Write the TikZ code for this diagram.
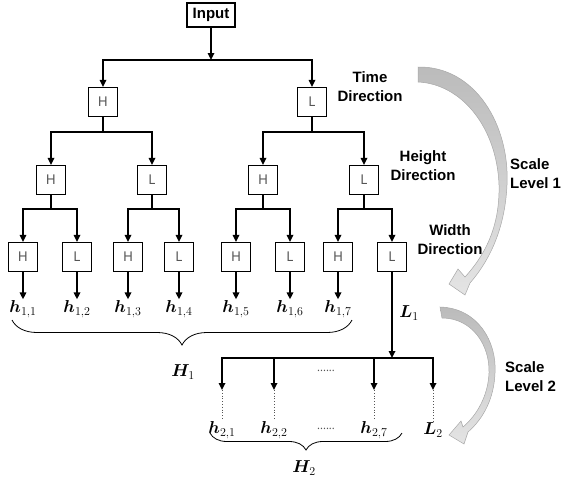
\documentclass[tikz,border=0pt]{standalone}
\usepackage{amsmath}
\usepackage{bm}
\usepackage[no-math]{fontspec}
\usepackage{tikz}
\usetikzlibrary{arrows.meta,decorations.pathreplacing}
\newfontfamily\labelfont{Noto Sans}
\newfontfamily\notefont{Liberation Sans}
\definecolor{boxtext}{HTML}{555555}
\definecolor{arcdark}{HTML}{BBBBBB}
\definecolor{arclight}{HTML}{E4E4E4}
\definecolor{arcline}{HTML}{A8A8A8}

\begin{document}
\begin{tikzpicture}[x=1pt, y=-1pt,
  filt/.style = {draw, line width=1.2pt, minimum width=29pt, minimum height=29pt, inner sep=0pt, text=boxtext, font=\labelfont\fontsize{13.5}{14}\selectfont},
  arr/.style = {line width=1.6pt, -{Triangle[width=6.5pt,length=7pt]}},
  bar/.style = {line width=1.6pt},
  coef/.style = {inner sep=1pt, font=\fontsize{18}{20}\selectfont},
  note/.style = {align=center, font=\notefont\bfseries\fontsize{15}{19}\selectfont},
  brc/.style = {decorate, decoration={brace, mirror, amplitude=#1}, line width=0.8pt},
  gap/.style = {inner sep=0pt, text=boxtext, font=\labelfont\fontsize{11}{11}\selectfont}]
\useasboundingbox (0,0) rectangle (561,482);

% filter tree
\node[draw, line width=1.2pt, minimum width=48pt, minimum height=24pt, inner sep=0pt, font=\notefont\bfseries\fontsize{15}{16}\selectfont] (in) at (211,15) {Input};
\node[filt] (t1) at (103,102) {H};
\node[filt] (t2) at (312,102) {L};
\node[filt] (s1) at (51,180) {H};
\node[filt] (s2) at (152,180) {L};
\node[filt] (s3) at (263,180) {H};
\node[filt] (s4) at (364,180) {L};
\node[filt] (w1) at (23,257) {H};
\node[filt] (w2) at (77,257) {L};
\node[filt] (w3) at (128,257) {H};
\node[filt] (w4) at (179,257) {L};
\node[filt] (w5) at (236,257) {H};
\node[filt] (w6) at (290,257) {L};
\node[filt] (w7) at (338,257) {H};
\node[filt] (w8) at (392,257) {L};

\coordinate (j0) at (211,60);
\draw[arr] (in) -- (j0);
\draw[arr] (j0) -| (t1);
\draw[arr] (j0) -| (t2);
\draw[bar] (t1) -- (t1 |- 0,132) coordinate (j1);
\draw[arr] (j1) -| (s1);
\draw[arr] (j1) -| (s2);
\draw[bar] (t2) -- (t2 |- 0,132) coordinate (j2);
\draw[arr] (j2) -| (s3);
\draw[arr] (j2) -| (s4);
\draw[bar] (s1) -- (s1 |- 0,209) coordinate (j3);
\draw[arr] (j3) -| (w1);
\draw[arr] (j3) -| (w2);
\draw[bar] (s2) -- (s2 |- 0,209) coordinate (j4);
\draw[arr] (j4) -| (w3);
\draw[arr] (j4) -| (w4);
\draw[bar] (s3) -- (s3 |- 0,209) coordinate (j5);
\draw[arr] (j5) -| (w5);
\draw[arr] (j5) -| (w6);
\draw[bar] (s4) -- (s4 |- 0,209) coordinate (j6);
\draw[arr] (j6) -| (w7);
\draw[arr] (j6) -| (w8);

% scale 1 outputs
\node[coef] (h11) at (23,309) {$\bm{h}_{1,1}$};
\node[coef] (h12) at (77,309) {$\bm{h}_{1,2}$};
\node[coef] (h13) at (128,309) {$\bm{h}_{1,3}$};
\node[coef] (h14) at (179,309) {$\bm{h}_{1,4}$};
\node[coef] (h15) at (236,309) {$\bm{h}_{1,5}$};
\node[coef] (h16) at (290,309) {$\bm{h}_{1,6}$};
\node[coef] (h17) at (338,309) {$\bm{h}_{1,7}$};
\draw[arr] (w1) -- (h11);
\draw[arr] (w2) -- (h12);
\draw[arr] (w3) -- (h13);
\draw[arr] (w4) -- (h14);
\draw[arr] (w5) -- (h15);
\draw[arr] (w6) -- (h16);
\draw[arr] (w7) -- (h17);
\node[coef] (l1) at (409,313) {$\bm{L}_1$};
\coordinate (j7) at (392,358);
\draw[arr] (w8) -- (j7);

\draw[brc=25pt] (12,320) -- (352,320);
\node[coef] (big1) at (183,372) {$\bm{H}_1$};

% scale 2
\coordinate (d1) at (222,390);
\coordinate (d2) at (274,390);
\coordinate (d7) at (374,390);
\coordinate (d8) at (433,390);
\draw[arr] (j7) -| (d1);
\draw[arr] (j7) -| (d2);
\draw[arr] (j7) -| (d7);
\draw[arr] (j7) -| (d8);
\node[gap] (g1) at (326,371) {......};
\node[coef] (h21) at (222,430) {$\bm{h}_{2,1}$};
\node[coef] (h22) at (274,430) {$\bm{h}_{2,2}$};
\node[gap] (g2) at (326,429) {......};
\node[coef] (h27) at (374,430) {$\bm{h}_{2,7}$};
\node[coef] (l2) at (433,430) {$\bm{L}_2$};
\draw[dotted, line width=0.8pt, boxtext] (d1) -- (h21);
\draw[dotted, line width=0.8pt, boxtext] (d2) -- (h22);
\draw[dotted, line width=0.8pt, boxtext] (d7) -- (h27);
\draw[dotted, line width=0.8pt, boxtext] (d8) -- (l2);

\draw[brc=17pt] (210,433) -- (402,433);
\node[coef] (big2) at (304,468) {$\bm{H}_2$};

% direction notes
\node[note] (td) at (370,87) {Time\\Direction};
\node[note] (hd) at (423,166) {Height\\Direction};
\node[note] (wd) at (450,240) {Width\\Direction};
\node[note, anchor=west, align=left, inner sep=0pt] (sc1) at (510,174) {Scale\\Level 1};
\node[note, anchor=west, align=left, inner sep=0pt] (sc2) at (505,377) {Scale\\Level 2};

% curved arrows
\shade[top color=arcdark, bottom color=arclight, draw=arcline, line width=0.5pt]
  (418,67) .. controls (475,66) and (510,125) .. (507,185)
  .. controls (505,228) and (490,260) .. (470,283)
  -- (465,295) -- (449,284) -- (458,269) -- (465,277)
  .. controls (484,256) and (500,228) .. (499,185)
  .. controls (497,128) and (462,84) .. (418,82) -- cycle;
\shade[top color=arcdark, bottom color=arclight, draw=arcline, line width=0.5pt]
  (440,307) .. controls (478,308) and (497,342) .. (495,373)
  .. controls (494,398) and (484,418) .. (468,432)
  -- (464,444) -- (449,435) -- (461,421) -- (463,427)
  .. controls (477,415) and (488,396) .. (489,373)
  .. controls (490,345) and (472,318) .. (442,318) -- cycle;
\end{tikzpicture}
\end{document}
